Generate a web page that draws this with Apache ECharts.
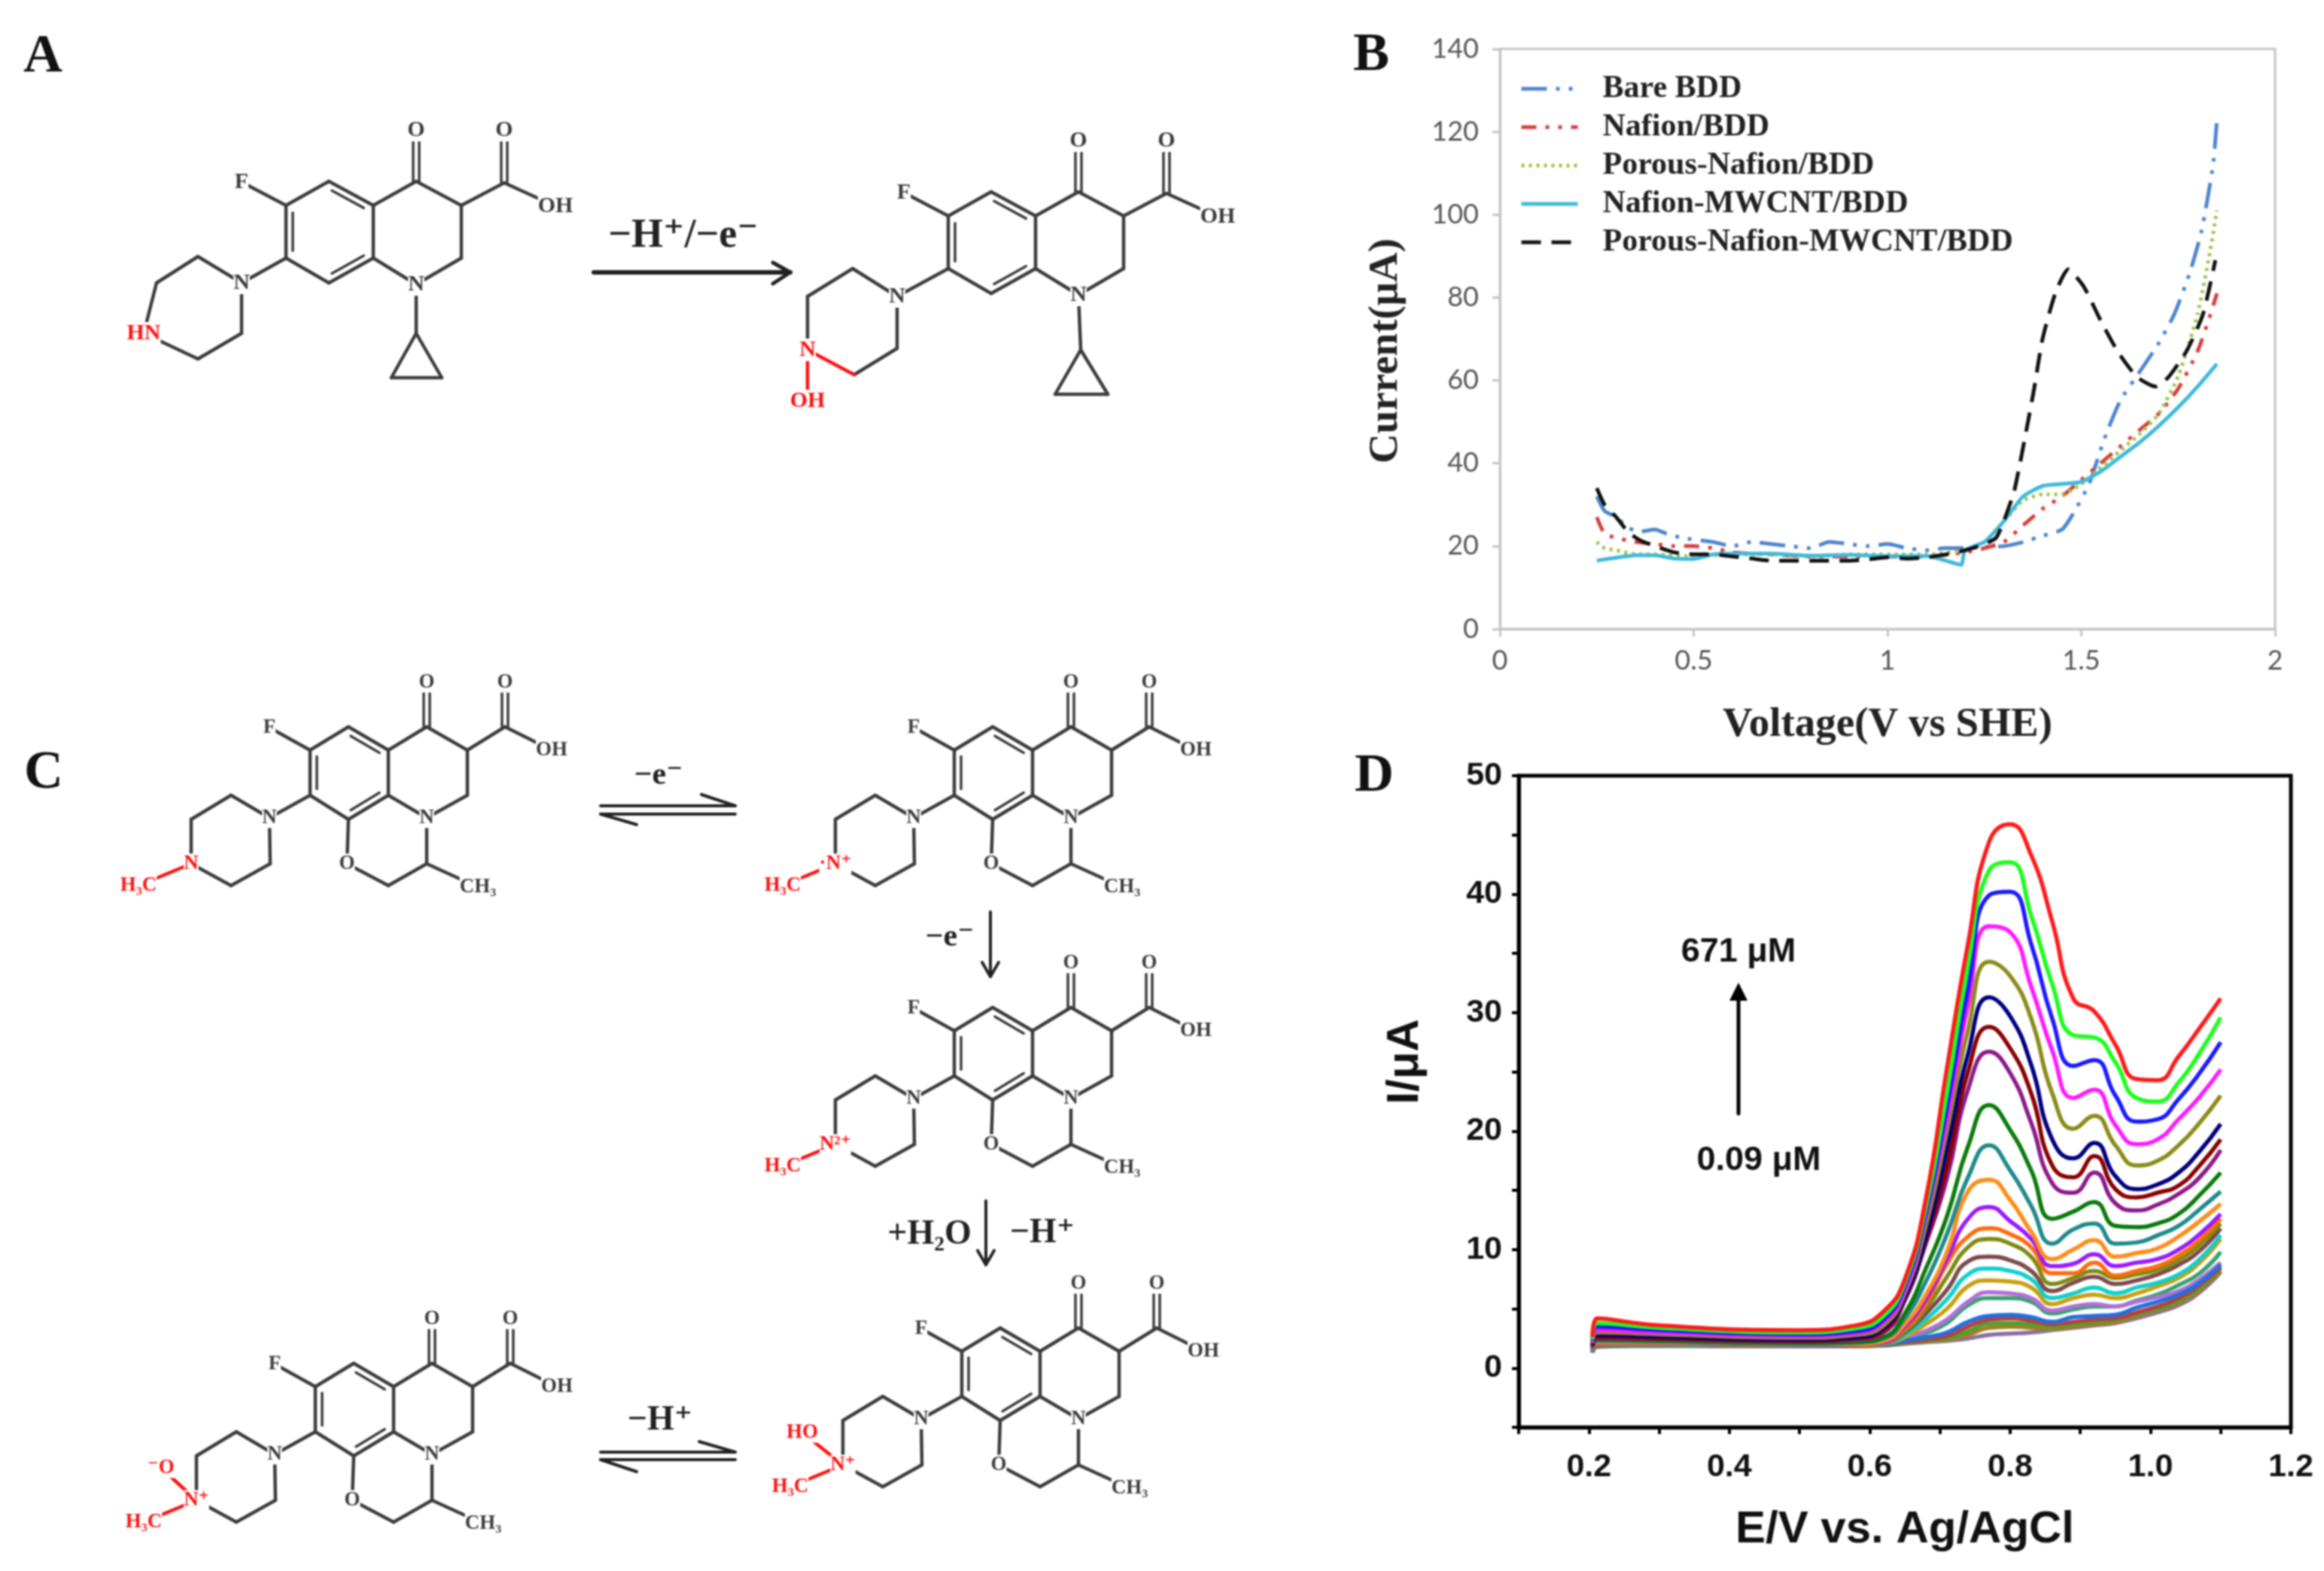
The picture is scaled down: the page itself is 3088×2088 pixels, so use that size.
<!DOCTYPE html>
<html>
<head>
<meta charset="utf-8">
<title>Panels A-D</title>
<script src="https://cdn.jsdelivr.net/npm/echarts@6/dist/echarts.min.js"></script>
<style>
    html, body { margin: 0; padding: 0; background: #fff; }
    #chart { width: 3088px; height: 2088px; filter: blur(1px); }
</style>
</head>
<body>
<div id="chart"></div>
<script>
// Panel B: voltage / current pairs, one pair of arrays per curve
const bareVolt = [0.25, 0.27, 0.30, 0.33, 0.36, 0.40, 0.43, 0.47, 0.55, 0.60, 0.65, 0.70, 0.75, 0.80, 0.85, 0.90, 0.95, 1.0, 1.05, 1.1, 1.15, 1.2, 1.25, 1.3, 1.35, 1.4, 1.45, 1.48, 1.52, 1.56, 1.6, 1.65, 1.7, 1.74, 1.78, 1.81, 1.84, 1.85];
const bareCur = [32, 28.5, 27, 24.5, 23.5, 24, 23, 22, 21, 20, 21, 20.5, 20, 19.5, 21, 20.5, 20, 20.5, 19.5, 19, 19.5, 19.5, 19.8, 20, 21, 22.5, 24, 28, 35, 46, 55, 62, 69, 76, 86, 96, 112, 123];
const nafionVolt = [0.25, 0.27, 0.30, 0.35, 0.40, 0.45, 0.50, 0.55, 0.60, 0.70, 0.80, 0.90, 1.0, 1.1, 1.2, 1.25, 1.3, 1.35, 1.4, 1.45, 1.5, 1.55, 1.6, 1.65, 1.7, 1.75, 1.8, 1.83, 1.85];
const nafionCur = [27, 23, 22, 21, 20.5, 20, 20, 19.5, 18.5, 18, 17.5, 17.5, 17.5, 17.5, 18.5, 19.5, 21, 25, 29, 32, 36, 40, 44, 48, 52, 58, 67, 75, 81];
const porousVolt = [0.25, 0.27, 0.30, 0.35, 0.40, 0.50, 0.60, 0.70, 0.80, 0.90, 1.0, 1.1, 1.2, 1.25, 1.3, 1.35, 1.4, 1.45, 1.5, 1.55, 1.6, 1.65, 1.7, 1.75, 1.8, 1.83, 1.85];
const porousCur = [21, 19.5, 19, 18, 18, 17.5, 18, 18, 17.5, 18, 18, 18, 19, 21, 26, 31, 32.5, 32.5, 35, 39, 43, 47, 52, 61, 76, 90, 101];
const mwcntVolt = [0.25, 0.3, 0.35, 0.4, 0.45, 0.5, 0.55, 0.6, 0.7, 0.8, 0.9, 1.0, 1.1, 1.15, 1.19, 1.2, 1.25, 1.3, 1.35, 1.4, 1.45, 1.5, 1.55, 1.6, 1.65, 1.7, 1.75, 1.8, 1.85];
const mwcntCur = [16.5, 17.2, 17.8, 17.8, 17, 16.9, 18, 18.2, 18.2, 17.7, 17.9, 17.6, 17.6, 16.5, 15.5, 19, 21, 26, 32, 34.5, 35, 35.5, 38, 41.5, 45, 49, 53.5, 58.5, 64];
const porousMwcntVolt = [0.25, 0.27, 0.3, 0.33, 0.36, 0.4, 0.45, 0.5, 0.55, 0.6, 0.65, 0.7, 0.75, 0.8, 0.85, 0.9, 0.95, 1.0, 1.05, 1.1, 1.15, 1.2, 1.25, 1.28, 1.3, 1.328, 1.377, 1.40, 1.433, 1.466, 1.506, 1.547, 1.595, 1.644, 1.692, 1.725, 1.773, 1.814, 1.846];
const porousMwcntCur = [34, 30, 27, 23.5, 21.5, 20, 18.5, 18, 18, 17.5, 17, 16.5, 16.5, 16.5, 16.5, 16.5, 16.8, 17.3, 17, 17.3, 18, 19, 20.5, 22, 26, 33.7, 57.3, 70, 81, 86.8, 82.7, 75, 66.8, 60.8, 58.5, 60.8, 67.3, 76, 89];

// Panel D: shared potential column, one current array per concentration
const potentialD = [0.205, 0.212, 0.30, 0.50, 0.58, 0.62, 0.65, 0.68, 0.71, 0.74, 0.77, 0.80, 0.83, 0.86, 0.89, 0.92, 0.95, 0.98, 1.01, 1.04, 1.07, 1.10];
const curveRed = [2.6, 4.2, 3.6, 3.2, 3.6, 4.8, 7.5, 14.3, 25.3, 35.8, 44.4, 45.9, 43.3, 37.7, 31.2, 30.1, 27.3, 24.4, 24.3, 26.3, 28.7, 31.2];
const curveGreen = [2.4, 3.8, 3.4, 3.0, 3.35, 4.4, 7.2, 13.6, 23.2, 34, 42, 42.7, 38.2, 32.4, 28.1, 27.9, 25.8, 22.8, 22.5, 24.1, 26.6, 29.6];
const curveBlue = [2.3, 3.5, 3.2, 2.85, 3.1, 4.1, 6.9, 13.1, 22, 32, 39.9, 40.2, 35.8, 29.5, 25.5, 26, 23, 20.8, 21, 22.7, 24.9, 27.5];
const curveMagenta = [2.2, 3.2, 3, 2.7, 2.95, 3.9, 6.5, 12.8, 21, 30.6, 37.3, 36.8, 32.2, 26.8, 22.8, 23.5, 20.5, 18.9, 19.3, 21, 22.9, 25.2];
const curveOlive = [2.1, 3, 2.85, 2.55, 2.8, 3.6, 6.3, 12, 20, 28.5, 34.3, 33.1, 29.5, 23.2, 20.2, 21.3, 18.8, 17.1, 17.5, 18.8, 20.7, 23];
const curveNavy = [2, 2.8, 2.65, 2.4, 2.6, 3.4, 6, 11.1, 18.5, 26.5, 31.3, 29.7, 25.6, 19.3, 17.7, 19, 16.2, 15.1, 15.5, 16.5, 18.3, 20.6];
const curveDarkRed = [1.9, 2.6, 2.5, 2.3, 2.5, 3.2, 5.9, 10.8, 17, 25, 28.8, 27, 23.2, 17.1, 16.1, 17.9, 15.1, 14.4, 14.8, 15.4, 17.1, 19.3];
const curvePurple = [1.8, 2.5, 2.45, 2.25, 2.4, 3, 5.7, 10.5, 16, 23.5, 26.7, 24.9, 20.7, 15.6, 14.8, 16.5, 13.9, 13.3, 13.8, 14.7, 16.1, 18.4];
const curveDarkGreen = [1.7, 2.4, 2.3, 2.1, 2.2, 2.6, 4.6, 8.4, 12.8, 18.7, 22.2, 20.1, 16.7, 12.6, 13.2, 14, 12, 11.9, 12.2, 13, 14.6, 16.5];
const curveTeal = [1.65, 2.3, 2.25, 2.05, 2.15, 2.5, 4.2, 7.3, 11.3, 16.1, 18.8, 16.7, 13.7, 10.5, 11.7, 12.2, 10.5, 10.6, 11.2, 12, 13.4, 14.9];
const curveOrange = [1.6, 2.2, 2.2, 2, 2.05, 2.3, 3.7, 6.2, 9.8, 14.9, 15.9, 14.2, 11.5, 9.2, 10, 10.8, 9.4, 9.7, 10.1, 11.1, 12.4, 13.85];
const curveViolet = [1.55, 2.15, 2.15, 1.95, 2, 2.2, 3.5, 5.8, 9.2, 12.6, 13.6, 12.4, 10.9, 8.6, 8.8, 9.6, 8.6, 8.9, 9.2, 10, 11.3, 13];
const curveOrangeRed = [1.5, 2.1, 2.1, 1.95, 2, 2.15, 3.3, 5.4, 8.8, 11.1, 11.8, 11.3, 10.2, 8, 8, 8.9, 7.8, 8.2, 8.6, 9.5, 10.8, 12.6];
const curveOlive2 = [1.5, 2.05, 2.05, 1.9, 1.95, 2.1, 3.1, 5, 7.7, 10.2, 10.9, 10.5, 9.4, 7.1, 7.6, 8.2, 7.6, 7.9, 8.3, 9.1, 10.4, 12.2];
const curveBrown = [1.45, 2, 2.05, 1.9, 1.95, 2.1, 3, 4.6, 6.6, 9, 9.4, 9.1, 8.2, 6.5, 7.2, 7.7, 7.1, 7.4, 7.9, 8.7, 9.9, 11.8];
const curveCyan = [1.4, 2, 2, 1.9, 1.95, 2.05, 2.8, 4.1, 5.8, 7.9, 8.4, 8.2, 7.5, 5.9, 6.3, 6.8, 6.3, 6.8, 7.2, 7.9, 9.2, 11.2];
const curveOchre = [1.4, 1.95, 2, 1.9, 1.9, 2.05, 2.6, 3.7, 5, 6.9, 7.4, 7.3, 6.8, 5.4, 5.9, 6.2, 5.9, 6.3, 6.9, 7.6, 8.9, 10.9];
const curveLilac = [1.35, 1.95, 1.95, 1.85, 1.9, 2, 2.5, 3.15, 4.1, 5.6, 6.4, 6.3, 5.9, 4.85, 5.2, 5.4, 5.2, 5.6, 6, 6.5, 7.5, 8.9];
const curveSeaGreen = [1.35, 1.9, 1.95, 1.85, 1.9, 2, 2.4, 2.95, 3.8, 5.3, 5.9, 5.9, 5.6, 4.6, 4.95, 5.2, 5.2, 5.7, 6.2, 7, 8, 9.8];
const curveBlue2 = [1.3, 1.9, 1.95, 1.85, 1.9, 1.95, 2.3, 2.6, 3, 3.9, 4.4, 4.5, 4.3, 3.9, 4.3, 4.4, 4.5, 5.1, 5.6, 6.2, 7.2, 8.7];
const curveRed3 = [1.3, 1.85, 1.9, 1.85, 1.85, 1.95, 2.2, 2.4, 2.7, 3.5, 4.1, 4.2, 4, 3.7, 3.9, 4.1, 4.2, 4.7, 5.2, 5.9, 7, 8.5];
const curveGreen3 = [1.3, 1.85, 1.9, 1.85, 1.85, 1.95, 2.15, 2.3, 2.5, 3.1, 3.75, 3.8, 3.7, 3.5, 3.7, 3.9, 4.1, 4.6, 5, 5.7, 6.8, 8.4];
const curveOchre3 = [1.3, 1.85, 1.9, 1.85, 1.85, 1.9, 2.1, 2.25, 2.4, 2.8, 3.4, 3.5, 3.4, 3.3, 3.5, 3.7, 3.9, 4.4, 4.9, 5.5, 6.6, 8.2];
const curveGray = [1.3, 1.8, 1.9, 1.85, 1.85, 1.9, 2.05, 2.2, 2.3, 2.5, 2.8, 2.9, 3, 3.2, 3.4, 3.6, 3.8, 4.2, 4.7, 5.3, 6.4, 8.1];

// draw order: lowest curves first, red ends up on top
const curvesD = [
    ['gray', curveGray, '#8a70a0'], ['ochre3', curveOchre3, '#a08020'], ['green3', curveGreen3, '#50a030'],
    ['red3', curveRed3, '#b84040'], ['seagreen', curveSeaGreen, '#3aa070'], ['lilac', curveLilac, '#b070d8'],
    ['blue2', curveBlue2, '#2070e0'], ['ochre', curveOchre, '#c8a010'], ['cyan', curveCyan, '#10cfcf'],
    ['brown', curveBrown, '#7d4a4a'], ['olive2', curveOlive2, '#7d8a10'], ['orangered', curveOrangeRed, '#ff6a0a'],
    ['violet', curveViolet, '#9a1aff'], ['orange', curveOrange, '#ff8c1a'], ['teal', curveTeal, '#1f8a8a'],
    ['darkgreen', curveDarkGreen, '#0a7a0a'], ['purple', curvePurple, '#8b1a8b'], ['darkred', curveDarkRed, '#8b0000'],
    ['navy', curveNavy, '#000080'], ['olive', curveOlive, '#8b8b1a'], ['magenta', curveMagenta, '#ff1aff'],
    ['blue', curveBlue, '#1a1aff'], ['green', curveGreen, '#1aff1a'], ['red', curveRed, '#ff1a1a']
];

// Structures in panels A and C: atoms in page units, bonds by atom name
const INK = '#3c3c3c';
const RED = '#ff1010';

const quinoloneAtoms = {
    a: [380, 273], b: [437, 241], c: [496, 273], d: [496, 343], e: [437, 376], f: [380, 343],
    g: [553, 241], O1: [553, 173], h: [613, 273], i: [670, 243], O2: [670, 173], OH: [738, 274],
    j: [613, 343], N1: [553, 378], k: [553, 443], kl: [520, 502], kr: [587, 502],
    F: [321, 242], N2: [321, 376], p1: [263, 341], p2: [208, 376], Nr: [191, 443], p3: [263, 477], p4: [321, 443]
};
const quinoloneBonds = [
    ['a', 'b'], ['b', 'c', 2], ['c', 'd'], ['d', 'e', 2], ['e', 'f'], ['f', 'a', 2],
    ['c', 'g'], ['g', 'h'], ['h', 'i'], ['h', 'j'], ['j', 'N1'], ['d', 'N1'], ['N1', 'k'],
    ['k', 'kl'], ['kl', 'kr'], ['kr', 'k'], ['g', 'O1', 3], ['i', 'O2', 3], ['i', 'OH'], ['a', 'F'],
    ['f', 'N2'], ['N2', 'p1'], ['p1', 'p2'], ['p3', 'p4'], ['p4', 'N2']
];
const levoAtoms = {
    a: [412, 997], b: [463, 966], c: [516, 997], d: [516, 1057], e: [463, 1089], f: [412, 1057],
    g: [567, 966], O1: [567, 907], h: [621, 997], i: [671, 966], O2: [671, 907], OH: [733, 997],
    j: [621, 1057], N1: [567, 1087], k: [567, 1148], l: [516, 1177], O3: [461, 1148], CH3: [635, 1179],
    F: [358, 967], N2: [358, 1087], p1: [307, 1057], p2: [254, 1089], Nr: [254, 1148], p3: [307, 1177], p4: [359, 1148],
    Me: [184, 1177]
};
const levoBonds = [
    ['a', 'b'], ['b', 'c', 2], ['c', 'd'], ['d', 'e', 2], ['e', 'f'], ['f', 'a', 2],
    ['c', 'g'], ['g', 'h'], ['h', 'i'], ['h', 'j'], ['j', 'N1'], ['d', 'N1'], ['N1', 'k'], ['k', 'l'],
    ['l', 'O3'], ['O3', 'e'], ['k', 'CH3'], ['g', 'O1', 3], ['i', 'O2', 3], ['i', 'OH'], ['a', 'F'],
    ['f', 'N2'], ['N2', 'p1'], ['p1', 'p2'], ['p2', 'Nr'], ['Nr', 'p3'], ['p3', 'p4'], ['p4', 'N2']
];

// arrows and free lines: x1, y1, x2, y2, width
const arrowLines = [
    [789, 362, 1050, 362, 6], [1027, 349, 1050, 362, 5], [1027, 377, 1050, 362, 5],
    [798, 1071, 977, 1071, 4], [977, 1071, 932, 1056, 4], [798, 1082, 977, 1082, 4], [798, 1082, 846, 1096, 4],
    [798, 1930, 977, 1930, 4], [977, 1930, 929, 1916, 4], [798, 1940, 977, 1940, 4], [798, 1940, 846, 1956, 4],
    [1316, 1212, 1316, 1298, 4], [1305, 1279, 1316, 1298, 4], [1327, 1279, 1316, 1298, 4],
    [1310, 1596, 1310, 1681, 4], [1299, 1662, 1310, 1681, 4], [1321, 1662, 1310, 1681, 4]
];
const arrowD = [2310, 1480, 2310, 1330, 5];
const arrowHeadD = [[2310, 1306], [2298, 1330], [2322, 1330]];

const panelLetters = [['A', 57, 76], ['B', 1822, 74], ['C', 58, 1028], ['D', 1826, 1032]];
const reactionTexts = [
    ['\u2212H\u207A/\u2212e\u207B', 908, 314, 54], ['\u2212e\u207B', 875, 1031, 42], ['\u2212H\u207A', 877, 1888, 46],
    ['\u2212e\u207B', 1262, 1246, 42], ['+H\u2082O', 1235, 1641, 46], ['\u2212H\u207A', 1385, 1639, 46]
];

function addMolecule(segments, labels, atoms, bonds, dx, dy, redBonds, atomLabels, size) {
    let pos = {};
    Object.keys(atoms).forEach((name) => {
        pos[name] = [atoms[name][0] + dx, atoms[name][1] + dy];
    });
    let ringCentre = [(pos.a[0] + pos.d[0]) / 2, (pos.a[1] + pos.d[1]) / 2];
    bonds.concat(redBonds).forEach((bond) => {
        let p = pos[bond[0]], q = pos[bond[1]];
        let color = redBonds.indexOf(bond) >= 0 ? RED : INK;
        if (bond[2] === 3) {
            // carbonyl, two lines either side
            segments.push([p[0] - 4, p[1], q[0] - 4, q[1], 3.5, color]);
            segments.push([p[0] + 4, p[1], q[0] + 4, q[1], 3.5, color]);
            return;
        }
        segments.push([p[0], p[1], q[0], q[1], 4.5, color]);
        if (bond[2] === 2) {
            let mx = (p[0] + q[0]) / 2, my = (p[1] + q[1]) / 2;
            let len = Math.hypot(ringCentre[0] - mx, ringCentre[1] - my);
            let ox = (ringCentre[0] - mx) / len * 9, oy = (ringCentre[1] - my) / len * 9;
            segments.push([p[0] + (q[0] - p[0]) * 0.14 + ox, p[1] + (q[1] - p[1]) * 0.14 + oy,
                q[0] + (p[0] - q[0]) * 0.14 + ox, q[1] + (p[1] - q[1]) * 0.14 + oy, 3.5, color]);
        }
    });
    atomLabels.forEach((item) => {
        let p = pos[item[0]] || [item[3] + dx, item[4] + dy];
        labels.push({text: item[1], x: p[0], y: p[1], size: size, color: item[2]});
    });
}

function buildScheme() {
    let segments = arrowLines.map((l) => l.concat(['#222']));
    segments.push(arrowD.concat(['#000']));
    let labels = [];
    const plainQuin = [['O1', 'O', INK], ['O2', 'O', INK], ['OH', 'OH', INK], ['N1', 'N', INK], ['F', 'F', INK], ['N2', 'N', INK]];
    // first panel A molecule
    addMolecule(segments, labels, quinoloneAtoms, quinoloneBonds.concat([['p2', 'Nr'], ['Nr', 'p3']]), 0, 0, [],
        plainQuin.concat([['Nr', 'HN', RED]]), 30);
    // second panel A molecule has a slightly different piperazine
    let quin2 = Object.assign({}, quinoloneAtoms, {
        N2: [312, 380], p1: [253, 343], p2: [193, 380], Nr: [193, 451], p3: [255, 484], p4: [312, 449],
        k: [556, 451], kl: [522, 510], kr: [592, 510], OHr: [193, 519]
    });
    addMolecule(segments, labels, quin2, quinoloneBonds.concat([['p2', 'Nr']]), 880, 14,
        [['Nr', 'p3'], ['Nr', 'OHr']],
        plainQuin.concat([['Nr', 'N', RED], ['OHr', 'OH', RED]]), 30);

    const plainLevo = [['O1', 'O', INK], ['O2', 'O', INK], ['OH', 'OH', INK], ['N1', 'N', INK], ['O3', 'O', INK],
        ['CH3', 'CH\u2083', INK], ['F', 'F', INK], ['N2', 'N', INK], ['Me', 'H\u2083C', RED]];
    const meBond = ['Nr', 'Me'];
    addMolecule(segments, labels, levoAtoms, levoBonds, 0, 0, [meBond],
        plainLevo.concat([['Nr', 'N', RED]]), 27);
    addMolecule(segments, labels, levoAtoms, levoBonds, 856, 0, [meBond],
        plainLevo.concat([['Nr', '\u00B7N\u207A', RED]]), 27);
    addMolecule(segments, labels, levoAtoms, levoBonds, 856, 373, [meBond],
        plainLevo.concat([['Nr', 'N\u00B2\u207A', RED]]), 27);
    addMolecule(segments, labels, Object.assign({HO: [200, 1105]}, levoAtoms), levoBonds, 866, 799, [meBond, ['Nr', 'HO']],
        plainLevo.concat([['Nr', 'N\u207A', RED], ['HO', 'HO', RED]]), 27);
    addMolecule(segments, labels, Object.assign({Ox: [207, 1105]}, levoAtoms), levoBonds, 7, 846, [meBond, ['Nr', 'Ox']],
        plainLevo.concat([['Nr', 'N\u207A', RED], ['Ox', '\u207BO', RED]]), 27);
    return {segments: segments, labels: labels};
}

function makePairs(xs, ys) {
    return xs.map((x, idx) => [x, ys[idx]]);
}

function makeOption() {
    let scheme = buildScheme();
    let freeTexts = panelLetters.map((l) => ({text: l[0], x: l[1], y: l[2], size: 72, color: '#111', weight: 'bold', free: true}))
        .concat(reactionTexts.map((t) => ({text: t[0], x: t[1], y: t[2], size: t[3], color: '#222', weight: 'bold', free: true})));
    let sansTexts = [['671 \u03BCM', 2310, 1266], ['0.09 \u03BCM', 2337, 1543]];

    let seriesB = [
        {name: 'Bare BDD', data: makePairs(bareVolt, bareCur), color: '#4f86d0', type: [34, 12, 5, 12, 5, 12]},
        {name: 'Nafion/BDD', data: makePairs(nafionVolt, nafionCur), color: '#d8403c', type: [20, 12, 5, 12, 5, 12]},
        {name: 'Porous-Nafion/BDD', data: makePairs(porousVolt, porousCur), color: '#9fc44a', type: [4, 6]},
        {name: 'Nafion-MWCNT/BDD', data: makePairs(mwcntVolt, mwcntCur), color: '#3fb9dc', type: 'solid'},
        {name: 'Porous-Nafion-MWCNT/BDD', data: makePairs(porousMwcntVolt, porousMwcntCur), color: '#111', type: [26, 14]}
    ].map((s) => ({
        name: s.name,
        type: 'line',
        xAxisIndex: 0,
        yAxisIndex: 0,
        data: s.data,
        color: s.color,
        symbol: 'none',
        smooth: 0.2,
        lineStyle: {width: 5, type: s.type, color: s.color}
    }));

    let seriesD = curvesD.map((c) => ({
        name: c[0],
        type: 'line',
        xAxisIndex: 1,
        yAxisIndex: 1,
        data: makePairs(potentialD, c[1]),
        symbol: 'none',
        smooth: 0.5,
        lineStyle: {width: 5.5, color: c[2]}
    }));

    let bondSeries = {
        type: 'custom',
        xAxisIndex: 2,
        yAxisIndex: 2,
        silent: true,
        clip: false,
        data: scheme.segments.map((s) => s.slice(0, 4)),
        renderItem: function (params, api) {
            let seg = scheme.segments[params.dataIndex];
            let p = api.coord([seg[0], seg[1]]), q = api.coord([seg[2], seg[3]]);
            return {
                type: 'line',
                shape: {x1: p[0], y1: p[1], x2: q[0], y2: q[1]},
                style: {stroke: seg[5], lineWidth: seg[4], lineCap: 'round'}
            };
        }
    };
    let headSeries = {
        type: 'custom',
        xAxisIndex: 2,
        yAxisIndex: 2,
        silent: true,
        clip: false,
        data: [arrowHeadD[0]],
        renderItem: function (params, api) {
            return {
                type: 'polygon',
                shape: {points: arrowHeadD.map((pt) => api.coord(pt))},
                style: {fill: '#000'}
            };
        }
    };
    let allLabels = scheme.labels.concat(freeTexts);
    let labelSeries = {
        type: 'custom',
        xAxisIndex: 2,
        yAxisIndex: 2,
        silent: true,
        clip: false,
        data: allLabels.map((l) => [l.x, l.y]),
        renderItem: function (params, api) {
            let l = allLabels[params.dataIndex];
            let p = api.coord([l.x, l.y]);
            let style = {
                x: p[0],
                y: p[1],
                text: l.text,
                fill: l.color,
                font: `${l.weight || 'bold'} ${l.size}px "Liberation Serif", "DejaVu Serif", serif`,
                align: 'center',
                verticalAlign: 'middle'
            };
            if (!l.free) {
                style.backgroundColor = '#fff';
            }
            return {type: 'text', style: style};
        }
    };
    let sansSeries = {
        type: 'custom',
        xAxisIndex: 2,
        yAxisIndex: 2,
        silent: true,
        clip: false,
        data: sansTexts.map((t) => [t[1], t[2]]),
        renderItem: function (params, api) {
            let t = sansTexts[params.dataIndex];
            let p = api.coord([t[1], t[2]]);
            return {
                type: 'text',
                style: {
                    x: p[0], y: p[1], text: t[0], fill: '#111',
                    font: 'bold 45px "Liberation Sans", sans-serif',
                    align: 'center', verticalAlign: 'middle'
                }
            };
        }
    };

    let axisB = {
        axisLine: {show: true, lineStyle: {color: '#c4c4c4', width: 3}},
        axisTick: {show: true, length: 10, lineStyle: {color: '#c4c4c4', width: 3}},
        splitLine: {show: false},
        axisLabel: {fontFamily: 'Lato', fontSize: 36, color: '#555'},
        nameTextStyle: {fontFamily: 'Liberation Serif', fontWeight: 'bold', fontSize: 55, color: '#222'}
    };
    let axisD = {
        axisLine: {show: true, onZero: false, lineStyle: {color: '#000', width: 5}},
        axisTick: {show: true, length: 9, lineStyle: {color: '#000', width: 4}},
        splitLine: {show: false},
        nameTextStyle: {fontFamily: 'Liberation Sans', fontWeight: 'bold', color: '#111'}
    };
    let labelD = {fontFamily: 'Liberation Sans', fontWeight: 'bold', fontSize: 43, color: '#111'};

    return {
        animation: false,
        backgroundColor: '#fff',
        grid: [
            {left: 1993, top: 65, width: 1030, height: 771, show: true, borderColor: '#c4c4c4', borderWidth: 3},
            {left: 2018, top: 1031, width: 1026, height: 866, show: true, borderColor: '#000', borderWidth: 5},
            {left: 0, top: 0, width: 3088, height: 2088}
        ],
        legend: {
            show: true,
            data: seriesB.map((s) => s.name),
            orient: 'vertical',
            left: 2014,
            top: 92,
            itemWidth: 75,
            itemHeight: 40,
            itemGap: 9,
            align: 'left',
            itemStyle: {opacity: 0},
            lineStyle: {width: 5},
            textStyle: {fontFamily: 'Liberation Serif', fontWeight: 'bold', fontSize: 42, color: '#222', padding: [0, 0, 0, 28]}
        },
        xAxis: [
            Object.assign({}, axisB, {
                gridIndex: 0, type: 'value', min: 0, max: 2, interval: 0.5,
                name: 'Voltage(V vs SHE)', nameLocation: 'middle', nameGap: 100,
                axisLabel: Object.assign({}, axisB.axisLabel, {margin: 24})
            }),
            Object.assign({}, axisD, {
                gridIndex: 1, type: 'value', min: 0.1, max: 1.2, interval: 0.1,
                name: 'E/V vs. Ag/AgCl', nameLocation: 'middle', nameGap: 106,
                nameTextStyle: Object.assign({}, axisD.nameTextStyle, {fontSize: 60}),
                axisLabel: Object.assign({}, labelD, {
                    margin: 32,
                    showMinLabel: true,
                    formatter: (v) => (Math.round(v * 10) % 2 === 0 ? v.toFixed(1) : '')
                })
            }),
            {gridIndex: 2, type: 'value', min: 0, max: 3088, show: false}
        ],
        yAxis: [
            Object.assign({}, axisB, {
                gridIndex: 0, type: 'value', min: 0, max: 140, interval: 20,
                name: 'Current(\u03BCA)', nameLocation: 'middle', nameGap: 124,
                nameTextStyle: Object.assign({}, axisB.nameTextStyle, {padding: [0, 32, 0, 0]}),
                axisLabel: Object.assign({}, axisB.axisLabel, {margin: 28})
            }),
            Object.assign({}, axisD, {
                gridIndex: 1, type: 'value', min: -5, max: 50, interval: 5,
                name: 'I/\u03BCA', nameLocation: 'middle', nameGap: 121,
                nameTextStyle: Object.assign({}, axisD.nameTextStyle, {fontSize: 60, padding: [0, 0, 0, 106]}),
                axisLabel: Object.assign({}, labelD, {
                    margin: 22,
                    formatter: (v) => (v >= 0 && v % 10 === 0 ? String(v) : '')
                })
            }),
            {gridIndex: 2, type: 'value', min: 0, max: 2088, inverse: true, show: false}
        ],
        series: seriesB.concat(seriesD, [bondSeries, headSeries, labelSeries, sansSeries])
    };
}

let chart = echarts.init(document.getElementById('chart'), null, {renderer: 'canvas', width: 3088, height: 2088});
chart.setOption(makeOption());
</script>
</body>
</html>
